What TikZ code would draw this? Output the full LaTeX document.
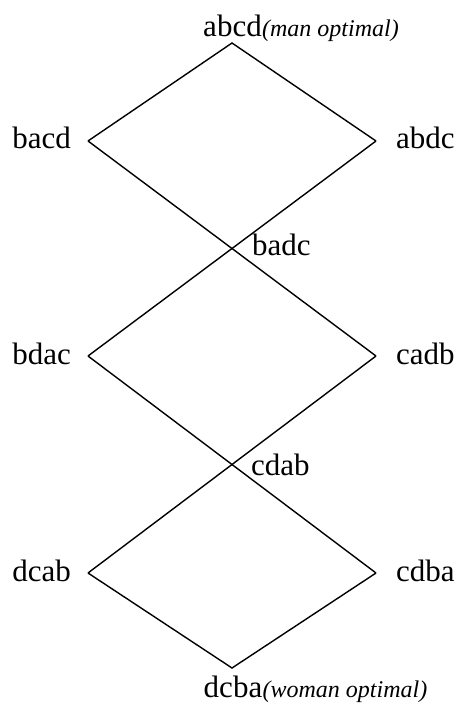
\documentclass[tikz,border=0pt]{standalone}
\usepackage{fontspec}
\setmainfont{Liberation Serif}
\begin{document}
\begin{tikzpicture}[x=1pt,y=-1pt,
  edge/.style={line width=1.4pt,line join=miter},
  perm/.style={inner sep=0pt,font=\fontsize{31}{36}\selectfont},
  note/.style={inner sep=0pt,font=\fontsize{24}{28}\selectfont\itshape}]
\useasboundingbox (0,0) rectangle (459,704);
% lattice elements (vertices)
\coordinate (v1) at (232,43);
\coordinate (v2) at (88,141);
\coordinate (v3) at (376,141);
\coordinate (v5) at (88,356);
\coordinate (v6) at (376,356);
\coordinate (v8) at (88,573);
\coordinate (v9) at (376,573);
\coordinate (v10) at (232,668);
% edges of the lattice
\draw[edge] (v2) -- (v1) -- (v3);
\draw[edge] (v2) -- (v6);
\draw[edge] (v3) -- (v5);
\draw[edge] (v5) -- (v9);
\draw[edge] (v6) -- (v8);
\draw[edge] (v8) -- (v10) -- (v9);
% labels
\node[perm,anchor=base] (abcd) at (232.5,36) {abcd};
\node[note,anchor=base west] (man) at (abcd.base east) {(man optimal)};
\node[perm,anchor=base east] (bacd) at (71,148) {bacd};
\node[perm,anchor=base west] (abdc) at (396,148) {abdc};
\node[perm,anchor=base west] (badc) at (252,255) {badc};
\node[perm,anchor=base east] (bdac) at (71,364) {bdac};
\node[perm,anchor=base west] (cadb) at (396,364) {cadb};
\node[perm,anchor=base west] (cdab) at (251,475) {cdab};
\node[perm,anchor=base east] (dcab) at (71,581) {dcab};
\node[perm,anchor=base west] (cdba) at (396,581) {cdba};
\node[perm,anchor=base] (dcba) at (233,697) {dcba};
\node[note,anchor=base west] (woman) at (dcba.base east) {(woman optimal)};
\end{tikzpicture}
\end{document}
